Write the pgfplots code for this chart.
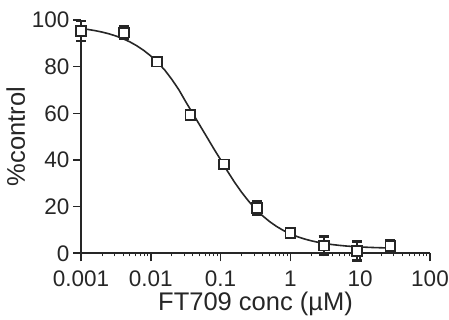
\documentclass[border=0pt]{standalone}
\usepackage{pgfplots}
\pgfplotsset{compat=1.18}
\usepackage{pgfplotstable}
\usepackage{fontspec}
\setmainfont{Liberation Sans}
\definecolor{ax}{HTML}{262626}
\pgfplotstableread{
x y e
0.001 95.3 4.3
0.0041 94.6 2.8
0.0123 82.2 0.5
0.037 59.4 1.5
0.111 38.1 0.5
0.333 19.3 2.8
1 8.8 0.5
3 3.3 4.0
9 1.0 4.0
27 3.1 2.5
}\datatable
\begin{document}
\begin{tikzpicture}
\useasboundingbox (-81pt,-66.7pt) rectangle (368pt,253.3pt);
\begin{axis}[
 at={(0,0)}, anchor=south west,
 scale only axis, width=349pt, height=233.3pt,
 xmode=log, xmin=0.001, xmax=100, ymin=0, ymax=100,
 axis x line*=bottom, axis y line*=left,
 axis line style={line width=1.6pt, color=ax, -},
 xtick={0.001,0.01,0.1,1,10,100},
 xticklabels={0.001,0.01,0.1,1,10,100},
 ytick={0,20,40,60,80,100},
 tick align=outside,
 major tick length=8pt,
 minor tick length=3pt,
 every major tick/.append style={line width=1.6pt, color=ax},
 every minor tick/.append style={line width=0.8pt, color=ax},
 tick label style={font=\fontsize{22.5}{26}\selectfont, color=ax},
 xticklabel style={yshift=-6pt},
 label style={font=\fontsize{25.5}{30}\selectfont, color=ax},
 xlabel={FT709 conc (µM)}, ylabel={\%control},
 xlabel style={yshift=2pt},
 /pgf/number format/assume math mode=true,
 clip=false,
]
\addplot[line width=1.6pt, color=ax, no marks] coordinates {
(0.001,96.36) (1.2589e-3,95.95) (1.5849e-3,95.45) (1.9953e-3,94.84)
(2.5119e-3,94.08) (3.1623e-3,93.15) (3.9811e-3,92.01) (5.0119e-3,90.62)
(6.3096e-3,88.95) (7.9433e-3,86.95) (0.01,84.57) (0.012589,81.78)
(0.015849,78.54) (0.019953,74.6) (0.025119,70.2) (0.031623,65.0)
(0.039811,60.0) (0.050119,55.0) (0.063096,50.0) (0.079433,44.96)
(0.1,40.12) (0.12589,35.13) (0.15849,30.46) (0.19953,26.20)
(0.25119,22.39) (0.31623,19.03) (0.39811,16.12) (0.50119,13.64)
(0.63096,11.54) (0.79433,9.78) (1,8.33) (1.2589,7.13) (1.5849,6.15)
(1.9953,5.35) (2.5119,4.70) (3.1623,4.17) (3.9811,3.74) (5.0119,3.40)
(6.3096,3.12) (7.9433,2.90) (10,2.72) (12.589,2.58) (15.849,2.46)
(19.953,2.37) (26.9,2.28)
};
\addplot[only marks, mark=square*, mark size=4.9pt,
  mark options={fill=white, draw=ax, line width=1.8pt},
  error bars/.cd, y dir=both, y explicit,
  error bar style={line width=1.6pt, color=ax},
  error mark options={rotate=90, mark size=5pt, line width=2.6pt, color=ax}]
  table[x=x, y=y, y error=e] {\datatable};
\end{axis}
\end{tikzpicture}
\end{document}
